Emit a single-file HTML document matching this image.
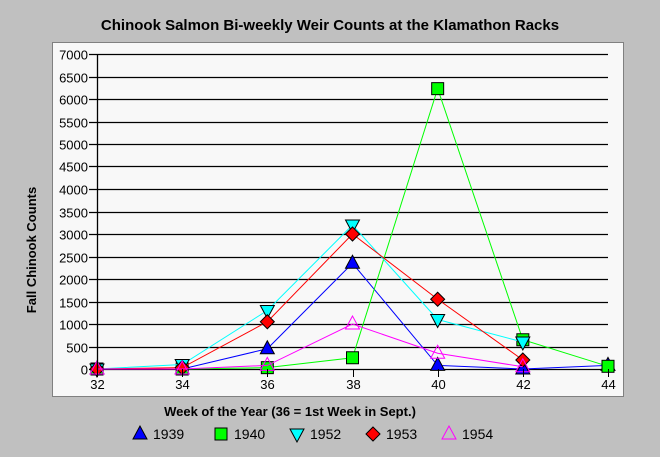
<!DOCTYPE html>
<html><head><meta charset="utf-8"><style>
body{margin:0;background:#c0c0c0;}
svg{display:block;font-family:"Liberation Sans",sans-serif;}
</style></head><body>
<svg width="660" height="457">
<rect x="0" y="0" width="660" height="457" fill="#c0c0c0"/>
<text x="330" y="30" text-anchor="middle" font-size="15" font-weight="bold">Chinook Salmon Bi-weekly Weir Counts at the Klamathon Racks</text>
<rect x="52.5" y="42.5" width="571" height="354" fill="#f8f8f8" stroke="#808080"/>
<g id="grid"></g><g id="series"></g><g id="axes"></g>
<text transform="translate(36,250) rotate(-90)" text-anchor="middle" font-size="13" font-weight="bold">Fall Chinook Counts</text>
<text x="290" y="416" text-anchor="middle" font-size="13" font-weight="bold">Week of the Year (36 = 1st Week in Sept.)</text>
<g id="legend"></g>
</svg>
<script>
const weeks=[32,34,36,38,40,42,44];
const yTicks=[0,500,1000,1500,2000,2500,3000,3500,4000,4500,5000,5500,6000,6500,7000];
const s1939=[0,0,450,2350,80,0,80];
const s1940=[0,0,30,250,6230,650,60];
const s1952=[0,100,1300,3200,1100,600,null];
const s1953=[0,30,1050,3000,1550,200,null];
const s1954=[0,0,80,1000,350,50,null];
const names=["1939","1940","1952","1953","1954"];
const NS="http://www.w3.org/2000/svg";
const L=97,R=608,T=54,B=369;
const xs=w=>L+(w-32)/(44-32)*(R-L);
const ys=v=>B-v/7000*(B-T);
function mk(t,a,p){const e=document.createElementNS(NS,t);for(const k in a)e.setAttribute(k,a[k]);p.appendChild(e);return e;}
const grid=document.getElementById('grid'),axes=document.getElementById('axes'),ser=document.getElementById('series'),leg=document.getElementById('legend');
yTicks.forEach(v=>{const y=Math.round(ys(v))+0.5;
const g=mk('line',{x1:89,x2:R,y1:y,y2:y,stroke:'#000','stroke-width':1.3},grid);


const t=mk('text',{x:88,y:y+5,'text-anchor':'end','font-size':13},axes);t.textContent=v;

});
const ax=mk('line',{x1:L+0.5,x2:L+0.5,y1:T,y2:B+1,stroke:'#000','stroke-width':1.3},axes);


weeks.forEach(w=>{const x=Math.round(xs(w))+0.5;
mk('line',{x1:x,x2:x,y1:B,y2:B+8,stroke:'#000'},axes);
const t=mk('text',{x:x,y:B+20,'text-anchor':'middle','font-size':13},axes);t.textContent=w;

});
function marker(type,x,y,p){let e;
if(type==='up')e=mk('polygon',{points:`${x},${y-8} ${x-7},${y+5} ${x+7},${y+5}`,fill:'#0000ff',stroke:'#000'},p);
if(type==='sq')e=mk('rect',{x:x-6,y:y-6,width:12,height:12,fill:'#00ff00',stroke:'#000'},p);
if(type==='down')e=mk('polygon',{points:`${x},${y+8} ${x-7},${y-5} ${x+7},${y-5}`,fill:'#00ffff',stroke:'#000'},p);
if(type==='dia')e=mk('polygon',{points:`${x},${y-7} ${x+7},${y} ${x},${y+7} ${x-7},${y}`,fill:'#ff0000',stroke:'#000'},p);
if(type==='open')e=mk('polygon',{points:`${x},${y-8} ${x-7},${y+5} ${x+7},${y+5}`,fill:'none',stroke:'#ff00ff'},p);
return e;}
const series=[[s1939,'#0000ff','up'],[s1940,'#00ff00','sq'],[s1952,'#00ffff','down'],[s1953,'#ff0000','dia'],[s1954,'#ff00ff','open']];
series.forEach(([d,c,m],i)=>{
const g=mk('g',{},ser);


const pts=[];d.forEach((v,j)=>{if(v!==null)pts.push([xs(weeks[j]),ys(v)]);});
mk('polyline',{points:pts.map(p=>p.join(',')).join(' '),fill:'none',stroke:c,'stroke-width':1},g);
pts.forEach(p=>{const e=marker(m,p[0],p[1],g);

});
const lx=[140,221,297,373,449][i];
const lg=mk('g',{},leg);


marker(m,lx,434,lg);
const t=mk('text',{x:lx+13,y:439,'font-size':14},lg);t.textContent=names[i];});
</script>
</body></html>
